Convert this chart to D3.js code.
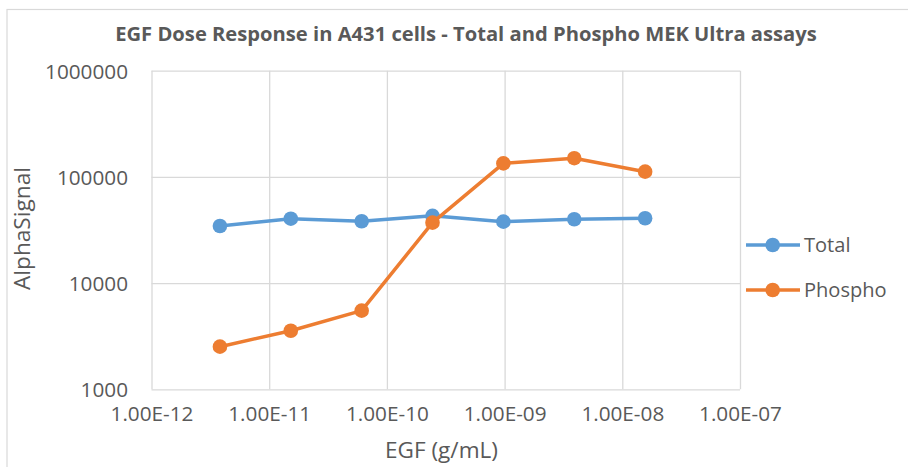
<!DOCTYPE html>
<html><head><meta charset="utf-8">
<script src="https://cdn.jsdelivr.net/npm/d3@7"></script>
<style>body{margin:0;background:#fff}svg{display:block}text{font-family:"Open Sans",sans-serif;fill:#595959}</style>
</head><body><svg id="c" width="908" height="467"></svg>
<script>
const concentrations = [3.8147e-12, 1.52588e-11, 6.10352e-11, 2.44141e-10, 9.76563e-10, 3.90625e-9, 1.5625e-8];
const totalValues = [34500, 40400, 38200, 43000, 37900, 39900, 40800];
const phosphoValues = [2520, 3560, 5500, 37100, 134000, 150000, 112000];
const seriesNames = ["Total", "Phospho"];
const xTicks = [1e-12, 1e-11, 1e-10, 1e-9, 1e-8, 1e-7];
const xTickLabels = ["1.00E-12","1.00E-11","1.00E-10","1.00E-09","1.00E-08","1.00E-07"];
const yTicks = [1000, 10000, 100000, 1000000];
const yTickLabels = ["1000","10000","100000","1000000"];
const titleText = "EGF Dose Response in A431 cells - Total and Phospho MEK Ultra assays";
const xTitle = "EGF (g/mL)";
const yTitle = "AlphaSignal";

const colors = ["#5B9BD5", "#ED7D31"];
const svg = d3.select("#c");
const L = 151.5, R = 740, T = 70.7, B = 389.3;
const x = d3.scaleLog().domain([1e-12, 1e-7]).range([L, R]);
const y = d3.scaleLog().domain([1000, 1000000]).range([B, T]);

function fit(sel, w) {
  const base = 20;
  sel.attr("font-size", base);
  const l = sel.node().getComputedTextLength();
  const fs = base * w / l;
  sel.attr("font-size", fs);
  return fs;
}

// chart border
svg.append("rect").attr("x", 7).attr("y", 9.5).attr("width", 910).attr("height", 470)
  .attr("fill", "none").attr("stroke", "#d9d9d9").attr("stroke-width", 1.2);

// gridlines
const gridY = d3.axisLeft(y).tickValues(yTicks).tickSize(-(R - L)).tickFormat("");
svg.append("g").attr("transform", `translate(${L},0)`).call(gridY)
  .call(g => g.select(".domain").remove())
  .call(g => g.selectAll("line").attr("stroke", "#d9d9d9").attr("stroke-width", 1.3));
const gridX = d3.axisBottom(x).tickValues(xTicks).tickSize(-(B - T)).tickFormat("");
svg.append("g").attr("transform", `translate(0,${B})`).call(gridX)
  .call(g => g.select(".domain").remove())
  .call(g => g.selectAll("line").attr("stroke", "#d9d9d9").attr("stroke-width", 1.3));

// tick labels via axes
const probe = svg.append("text").text("1000000");
const tickFs = fit(probe, 83);
probe.remove();

const yAxis = d3.axisLeft(y).tickValues(yTicks).tickSize(0).tickPadding(0)
  .tickFormat((d, i) => yTickLabels[i]);
svg.append("g").attr("transform", `translate(128,0)`).call(yAxis)
  .call(g => g.select(".domain").remove())
  .call(g => g.selectAll("text").attr("font-size", tickFs).attr("fill", "#595959")
    .attr("font-family", '"Open Sans",sans-serif').attr("dy", "0.36em"));

const xAxis = d3.axisBottom(x).tickValues(xTicks).tickSize(0).tickPadding(0)
  .tickFormat((d, i) => xTickLabels[i]);
svg.append("g").attr("transform", `translate(0,421)`).call(xAxis)
  .call(g => g.select(".domain").remove())
  .call(g => g.selectAll("text").attr("font-size", tickFs).attr("fill", "#595959")
    .attr("font-family", '"Open Sans",sans-serif').attr("dy", 0).attr("y", 0));

// title
const t = svg.append("text").attr("x", 466).attr("y", 41).attr("text-anchor", "middle")
  .attr("font-weight", "bold").text(titleText);
fit(t, 702);

// axis titles
const xt = svg.append("text").attr("x", 441.5).attr("y", 458).attr("text-anchor", "middle").text(xTitle);
fit(xt, 113);
const yt = svg.append("text").attr("transform", "translate(30,228.5) rotate(-90)").attr("text-anchor", "middle").text(yTitle);
fit(yt, 123);

// series
const series = [totalValues, phosphoValues];
const line = d3.line().x((d, i) => x(concentrations[i])).y(d => y(d));
series.forEach((vals, si) => {
  svg.append("path").datum(vals).attr("d", line).attr("fill", "none")
    .attr("stroke", colors[si]).attr("stroke-width", 3.5).attr("stroke-linejoin", "round");
  svg.append("g").selectAll("circle").data(vals).join("circle")
    .attr("cx", (d, i) => x(concentrations[i])).attr("cy", d => y(d)).attr("r", 7.3)
    .attr("fill", colors[si]);
});

// legend
const legY = [245, 290];
const legendFsProbe = svg.append("text").text("Phospho");
const legFs = fit(legendFsProbe, 82.7);
legendFsProbe.remove();
seriesNames.forEach((name, i) => {
  const g = svg.append("g");
  g.append("line").attr("x1", 746).attr("x2", 800).attr("y1", legY[i]).attr("y2", legY[i])
    .attr("stroke", colors[i]).attr("stroke-width", 3.5);
  g.append("circle").attr("cx", 772.7).attr("cy", legY[i]).attr("r", 7.3).attr("fill", colors[i]);
  g.append("text").attr("x", 804).attr("y", legY[i] + 6.7).attr("font-size", legFs).text(name);
});
</script></body></html>
